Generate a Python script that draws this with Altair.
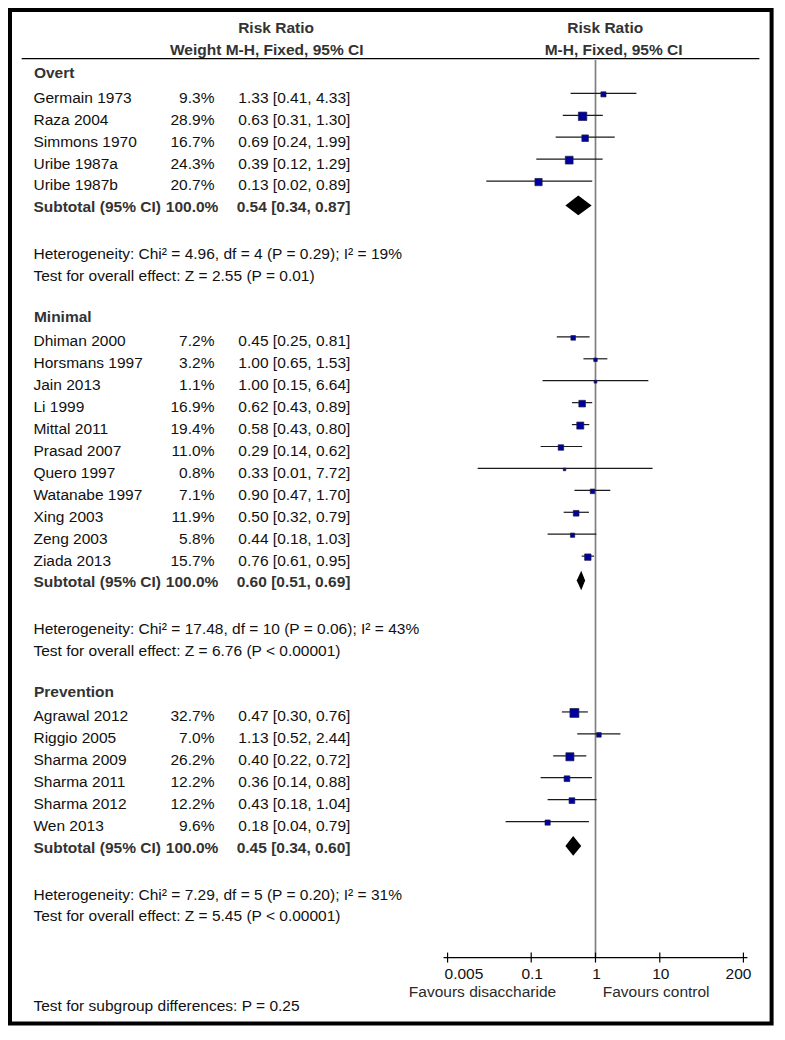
import altair as alt
import pandas as pd

# ------------------------------------------------------------------ data
groups = ["Overt", "Minimal", "Prevention"]
study_group = ["Overt"] * 5 + ["Minimal"] * 11 + ["Prevention"] * 6
study_names = [
    "Germain 1973", "Raza 2004", "Simmons 1970", "Uribe 1987a", "Uribe 1987b",
    "Dhiman 2000", "Horsmans 1997", "Jain 2013", "Li 1999", "Mittal 2011",
    "Prasad 2007", "Quero 1997", "Watanabe 1997", "Xing 2003", "Zeng 2003",
    "Ziada 2013",
    "Agrawal 2012", "Riggio 2005", "Sharma 2009", "Sharma 2011", "Sharma 2012",
    "Wen 2013",
]
study_weight = [9.3, 28.9, 16.7, 24.3, 20.7,
                7.2, 3.2, 1.1, 16.9, 19.4, 11.0, 0.8, 7.1, 11.9, 5.8, 15.7,
                32.7, 7.0, 26.2, 12.2, 12.2, 9.6]
study_rr = [1.33, 0.63, 0.69, 0.39, 0.13,
            0.45, 1.00, 1.00, 0.62, 0.58, 0.29, 0.33, 0.90, 0.50, 0.44, 0.76,
            0.47, 1.13, 0.40, 0.36, 0.43, 0.18]
study_lo = [0.41, 0.31, 0.24, 0.12, 0.02,
            0.25, 0.65, 0.15, 0.43, 0.43, 0.14, 0.0147, 0.47, 0.32, 0.18, 0.61,
            0.30, 0.52, 0.22, 0.14, 0.18, 0.04]
study_hi = [4.33, 1.30, 1.99, 1.29, 0.89,
            0.81, 1.53, 6.64, 0.89, 0.80, 0.62, 7.72, 1.70, 0.79, 1.03, 0.95,
            0.76, 2.44, 0.72, 0.88, 1.04, 0.79]
sub_weight = [100.0, 100.0, 100.0]
sub_rr = [0.54, 0.60, 0.45]
sub_lo = [0.34, 0.51, 0.34]
sub_hi = [0.87, 0.69, 0.60]
het_text = [
    "Heterogeneity: Chi² = 4.96, df = 4 (P = 0.29); I² = 19%",
    "Heterogeneity: Chi² = 17.48, df = 10 (P = 0.06); I² = 43%",
    "Heterogeneity: Chi² = 7.29, df = 5 (P = 0.20); I² = 31%",
]
effect_text = [
    "Test for overall effect: Z = 2.55 (P = 0.01)",
    "Test for overall effect: Z = 6.76 (P < 0.00001)",
    "Test for overall effect: Z = 5.45 (P < 0.00001)",
]
axis_ticks = [0.005, 0.1, 1, 10, 200]
axis_tick_labels = ["0.005", "0.1", "1", "10", "200"]
favours_text = ["Favours disaccharide", "Favours control"]
subgroup_text = ["Test for subgroup differences: P = 0.25"]
col_head_left = ["Risk Ratio", "Weight M-H, Fixed, 95% CI"]
col_head_right = ["Risk Ratio", "M-H, Fixed, 95% CI"]

# ------------------------------------------------------------------ layout
W, H = 768, 1018
SX, SY = W / 785, H / 1040
STEP, TOP = 22.4, 66.7          # row height / first row position (reference px)


def px(x):
    return x * SX


header_rows, study_rows, sub_rows, het_rows, eff_rows = [], [], [], [], []
r = 0.0
for g in groups:
    header_rows.append(r)
    r += 1.116
    for _ in range(study_group.count(g)):
        study_rows.append(r)
        r += 1
    sub_rows.append(r)
    r += 2.14
    het_rows.append(r)
    r += 0.97
    eff_rows.append(r)
    r += 1.88

AXIS_ROW = 40.33
TICKLAB_ROW = 41.07
FAV_ROW = 41.89
SUBGROUP_ROW = 42.56
HEAD_ROWS = [-2.054, -1.045]
HLINE_ROW = -0.67
DIAMOND_H = 10 / STEP

FONT = "Liberation Sans"
FS = 15.5
TXT = "#111111"
BOLD_TXT = "#333333"

xscale = alt.Scale(type="log", domain=[0.005, 200], range=[px(449.3), px(751.7)])
yscale = alt.Scale(domain=[-TOP / STEP, (1040 - TOP) / STEP], range=[0, H], nice=False, zero=False)

Y = alt.Y("row:Q", scale=yscale, axis=None)

studies = pd.DataFrame(dict(
    name=study_names, weight=study_weight, rr=study_rr, lo=study_lo, hi=study_hi,
    row=study_rows,
    wtxt=[f"{w:.1f}%" for w in study_weight],
    citxt=[f"{a:.2f} [{b:.2f}, {c:.2f}]" for a, b, c in zip(study_rr, study_lo, study_hi)],
))
subs = pd.DataFrame(dict(
    name=["Subtotal (95% CI)"] * 3, row=sub_rows,
    wtxt=[f"{w:.1f}%" for w in sub_weight],
    citxt=[f"{a:.2f} [{b:.2f}, {c:.2f}]" for a, b, c in zip(sub_rr, sub_lo, sub_hi)],
))
heads = pd.DataFrame(dict(name=groups, row=header_rows))
hets = pd.DataFrame(dict(name=het_text, row=het_rows))
effs = pd.DataFrame(dict(name=effect_text, row=eff_rows))

dia = []
for g, m, lo, hi, rw in zip(groups, sub_rr, sub_lo, sub_hi, sub_rows):
    for xv, k in ((lo, 0), (m, 1), (hi, 0)):
        dia.append(dict(grp=g, x=xv, y1=rw - DIAMOND_H * k, y2=rw + DIAMOND_H * k))
dia = pd.DataFrame(dia)

ticks = pd.DataFrame(dict(x=axis_ticks, lab=axis_tick_labels, row=[AXIS_ROW] * 5, lrow=[TICKLAB_ROW] * 5))


def text_layer(df, field, x_px, align="left", bold=False, color=None, size=FS, row="row"):
    return alt.Chart(df).mark_text(
        align=align, baseline="middle", font=FONT, fontSize=size,
        fontWeight="bold" if bold else "normal",
        color=color or (BOLD_TXT if bold else TXT),
    ).encode(
        x=alt.value(x_px),
        y=alt.Y(f"{row}:Q", scale=yscale, axis=None),
        text=f"{field}:N",
    )


one = pd.DataFrame(dict(a=[0]))
border = alt.Chart(one).mark_rect(fillOpacity=0, stroke="black", strokeWidth=4).encode(
    x=alt.value(2), x2=alt.value(px(780.5)), y=alt.value(2), y2=alt.value(H - 2.5))

hline = alt.Chart(pd.DataFrame(dict(row=[HLINE_ROW]))).mark_rule(color="black", strokeWidth=1.2).encode(
    x=alt.value(px(14)), x2=alt.value(px(768)), y=Y)

refline = alt.Chart(pd.DataFrame(dict(x=[1], r1=[-0.61], r2=[AXIS_ROW]))).mark_rule(
    color="#808080", strokeWidth=1.7).encode(
    x=alt.X("x:Q", scale=xscale, axis=None),
    y=alt.Y("r1:Q", scale=yscale, axis=None), y2="r2:Q")

ci = alt.Chart(studies).mark_rule(color="#1a1a1a", strokeWidth=1.2, yOffset=-4.4).encode(
    x=alt.X("lo:Q", scale=xscale, axis=None), x2="hi:Q", y=Y)

squares = alt.Chart(studies).mark_square(
    filled=True, fill="#0000A0", stroke="#202040", strokeWidth=0.7, opacity=1, yOffset=-3.4
).encode(
    x=alt.X("rr:Q", scale=xscale, axis=None), y=Y,
    size=alt.Size("weight:Q", scale=alt.Scale(domain=[0, 32.7], range=[5, 80]), legend=None),
)

diamonds = alt.Chart(dia).mark_area(color="black", opacity=1, yOffset=-2, y2Offset=-2).encode(
    x=alt.X("x:Q", scale=xscale, axis=None),
    y=alt.Y("y1:Q", scale=yscale, axis=None), y2="y2:Q",
    detail="grp:N",
)

axis_line = alt.Chart(pd.DataFrame(dict(a=[axis_ticks[0]], b=[axis_ticks[-1]], row=[AXIS_ROW]))).mark_rule(
    color="black", strokeWidth=1.2, xOffset=-4, x2Offset=4).encode(
    x=alt.X("a:Q", scale=xscale, axis=None), x2="b:Q", y=Y)

tick_marks = alt.Chart(ticks).mark_rule(color="black", strokeWidth=1.2, yOffset=-5, y2Offset=5).encode(
    x=alt.X("x:Q", scale=xscale, axis=None), y=Y, y2="row:Q")


def tick_text(df, align, dx):
    return alt.Chart(df).mark_text(
        align=align, baseline="middle", font=FONT, fontSize=FS, color=TXT, dx=dx
    ).encode(
        x=alt.X("x:Q", scale=xscale, axis=None),
        y=alt.Y("lrow:Q", scale=yscale, axis=None),
        text="lab:N",
    )


tick_lab_mid = tick_text(ticks.iloc[1:4], "center", 1)
tick_lab_first = tick_text(ticks.iloc[:1], "left", -3)
tick_lab_last = tick_text(ticks.iloc[4:], "right", 8)

colh_l1 = text_layer(pd.DataFrame(dict(t=[col_head_left[0]], row=[HEAD_ROWS[0]])), "t", px(274), "center", True)
colh_l2 = text_layer(pd.DataFrame(dict(t=[col_head_left[1]], row=[HEAD_ROWS[1]])), "t", px(264.5), "center", True)
colh_r1 = text_layer(pd.DataFrame(dict(t=[col_head_right[0]], row=[HEAD_ROWS[0]])), "t", px(610.5), "center", True)
colh_r2 = text_layer(pd.DataFrame(dict(t=[col_head_right[1]], row=[HEAD_ROWS[1]])), "t", px(619), "center", True)

fav_l = text_layer(pd.DataFrame(dict(t=[favours_text[0]], row=[FAV_ROW])), "t", px(485), "center", color="#2a2a2a")
fav_r = text_layer(pd.DataFrame(dict(t=[favours_text[1]], row=[FAV_ROW])), "t", px(662.5), "center", color="#2a2a2a")
subgroup = text_layer(pd.DataFrame(dict(t=subgroup_text, row=[SUBGROUP_ROW])), "t", px(26))

layers = [
    border, hline, refline, ci, squares, diamonds, axis_line, tick_marks,
    tick_lab_mid, tick_lab_first, tick_lab_last,
    colh_l1, colh_l2, colh_r1, colh_r2,
    text_layer(heads, "name", px(26.5), bold=True),
    text_layer(studies, "name", px(26)),
    text_layer(studies, "wtxt", px(211), "right"),
    text_layer(studies, "citxt", px(350), "right"),
    text_layer(subs, "name", px(26), bold=True),
    text_layer(subs, "wtxt", px(215), "right", bold=True),
    text_layer(subs, "citxt", px(350), "right", bold=True),
    text_layer(hets, "name", px(26)),
    text_layer(effs, "name", px(26)),
    fav_l, fav_r, subgroup,
]

chart = alt.layer(*layers).properties(
    width=W, height=H, autosize=alt.AutoSizeParams(type="none"), padding=0,
    background="white",
).configure_view(stroke="transparent")

chart.save("out.html", embed_options={"renderer": "svg", "actions": False})
